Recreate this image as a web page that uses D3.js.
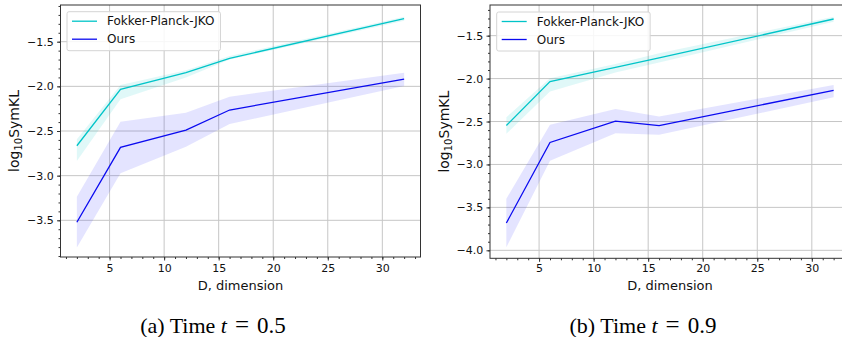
<!DOCTYPE html>
<html>
<head>
<meta charset="utf-8">
<script src="https://cdn.jsdelivr.net/npm/d3@7"></script>
<style>
  body { margin: 0; background: #fff; }
  svg { display: block; font-family: "DejaVu Sans", sans-serif; }
</style>
</head>
<body>
<div id="chart"></div>
<script>
// dimensions on the x axis
var dims = [2, 6, 12, 16, 32];

// (a) t = 0.5
var fpMeanA  = [-2.665, -2.034, -1.847, -1.686, -1.242];
var fpLowA   = [-2.836, -2.145, -1.900, -1.700, -1.265];
var fpHighA  = [-2.593, -1.985, -1.820, -1.660, -1.220];
var ourMeanA = [-3.522, -2.683, -2.489, -2.265, -1.920];
var ourLowA  = [-3.806, -2.974, -2.675, -2.421, -1.996];
var ourHighA = [-3.236, -2.396, -2.295, -2.116, -1.847];

// (b) t = 0.9
var fpMeanB  = [-2.547, -2.035, -1.870, -1.760, -1.306];
var fpLowB   = [-2.643, -2.151, -1.930, -1.814, -1.337];
var fpHighB  = [-2.450, -1.996, -1.830, -1.705, -1.279];
var ourMeanB = [-3.682, -2.744, -2.496, -2.547, -2.136];
var ourLowB  = [-3.965, -2.957, -2.636, -2.655, -2.217];
var ourHighB = [-3.399, -2.539, -2.353, -2.442, -2.074];

var xTicks = [5, 10, 15, 20, 25, 30];
var yTicksA = [-3.5, -3.0, -2.5, -2.0, -1.5];
var yTicksB = [-4.0, -3.5, -3.0, -2.5, -2.0, -1.5];
var seriesNames = ["Fokker-Planck-JKO", "Ours"];
var captions = ["(a)", "(b)"];
var times = ["0.5", "0.9"];

var fpColor = "#00c4c8", ourColor = "#0a0af0";

var svg = d3.select("#chart")
  .append("svg")
  .attr("width", 842)
  .attr("height", 337);

function panel(p) {
  var x = d3.scaleLinear().domain([0.5, 33.5]).range([p.left, p.right]);
  var y = d3.scaleLinear().domain(p.ydom).range([p.bottom, p.top]);
  var g = svg.append("g");

  // grid
  g.selectAll(".gx").data(xTicks).enter().append("line")
    .attr("x1", d => x(d)).attr("x2", d => x(d))
    .attr("y1", p.top).attr("y2", p.bottom)
    .attr("stroke", "#c6c6c6").attr("stroke-width", 1);
  g.selectAll(".gy").data(p.yticks).enter().append("line")
    .attr("x1", p.left).attr("x2", p.right)
    .attr("y1", d => y(d)).attr("y2", d => y(d))
    .attr("stroke", "#c6c6c6").attr("stroke-width", 1);

  var rows = dims.map(function(d, i) {
    return {x: d, fm: p.fm[i], fl: p.fl[i], fh: p.fh[i], om: p.om[i], ol: p.ol[i], oh: p.oh[i]};
  });

  // bands
  g.append("path").datum(rows)
    .attr("fill", fpColor).attr("fill-opacity", 0.12)
    .attr("d", d3.area().x(d => x(d.x)).y0(d => y(d.fl)).y1(d => y(d.fh)));
  g.append("path").datum(rows)
    .attr("fill", "#3030ff").attr("fill-opacity", 0.13)
    .attr("d", d3.area().x(d => x(d.x)).y0(d => y(d.ol)).y1(d => y(d.oh)));

  // lines
  g.append("path").datum(rows)
    .attr("fill", "none").attr("stroke", fpColor).attr("stroke-width", 1.3)
    .attr("d", d3.line().x(d => x(d.x)).y(d => y(d.fm)));
  g.append("path").datum(rows)
    .attr("fill", "none").attr("stroke", ourColor).attr("stroke-width", 1.3)
    .attr("d", d3.line().x(d => x(d.x)).y(d => y(d.om)));

  // axes
  g.append("g").attr("transform", "translate(0," + p.bottom + ")")
    .call(d3.axisBottom(x).tickValues(xTicks).tickSize(3.5).tickPadding(p.xpad).tickFormat(d3.format("d")));
  g.append("g").attr("transform", "translate(0," + p.bottom + ")")
    .call(d3.axisBottom(x).tickValues(d3.range(1, 34)).tickSize(2).tickFormat(""))
    .select(".domain").remove();
  g.append("g").attr("transform", "translate(" + p.left + ",0)")
    .call(d3.axisLeft(y).tickValues(p.yticks).tickSize(3.5).tickPadding(3.2).tickFormat(d3.format(".1f")));
  g.append("g").attr("transform", "translate(" + p.left + ",0)")
    .call(d3.axisLeft(y).tickValues(p.minor).tickSize(2).tickFormat(""))
    .select(".domain").remove();
  g.selectAll(".tick text").attr("font-size", 11).attr("font-family", "DejaVu Sans").attr("fill", "#111");
  g.selectAll(".tick line").attr("stroke", "#333");
  g.selectAll(".domain").remove();

  // frame
  g.append("rect")
    .attr("x", p.left).attr("y", p.top)
    .attr("width", p.right - p.left).attr("height", p.bottom - p.top)
    .attr("fill", "none").attr("stroke", "#333").attr("stroke-width", 1);

  // legend
  var lg = g.append("g").attr("transform", "translate(" + p.legX + "," + p.legY + ")");
  var box = lg.append("rect").attr("rx", 2)
    .attr("fill", "#fff").attr("fill-opacity", 0.85).attr("stroke", "#d4d4d4");
  var maxW = 0;
  seriesNames.forEach(function(name, i) {
    var yy = 9.5 + i * 18;
    lg.append("line").attr("x1", 5).attr("x2", 30).attr("y1", yy).attr("y2", yy)
      .attr("stroke", i == 0 ? fpColor : ourColor).attr("stroke-width", 1.3);
    var t = lg.append("text").attr("x", 40).attr("y", yy + 4.3)
      .attr("font-size", 12).attr("fill", "#111").text(name);
    maxW = Math.max(maxW, t.node().getComputedTextLength());
  });
  box.attr("width", 40 + maxW + 6).attr("height", 39);

  // axis labels
  g.append("text")
    .attr("x", (p.left + p.right) / 2).attr("y", 290)
    .attr("text-anchor", "middle").attr("font-size", 13).attr("fill", "#111")
    .text("D, dimension");
  var yl = g.append("text")
    .attr("transform", "translate(" + p.ylabX + "," + ((p.top + p.bottom) / 2) + ") rotate(-90)")
    .attr("text-anchor", "middle").attr("font-size", 14).attr("fill", "#111");
  yl.append("tspan").text("log");
  yl.append("tspan").attr("font-size", 10).attr("dy", 3).text("10");
  yl.append("tspan").attr("dy", -3).text("SymKL");

  // caption
  var cap = svg.append("text")
    .attr("x", p.capX).attr("y", 333)
    .attr("text-anchor", "middle")
    .attr("font-family", "Liberation Serif, Times New Roman, serif")
    .attr("font-size", 22).attr("fill", "#000");
  cap.append("tspan").text(p.cap + " Time ");
  cap.append("tspan").attr("font-style", "italic").text("t");
  cap.append("tspan").attr("dx", 8).attr("font-size", 25).text("=");
  cap.append("tspan").attr("dx", 8).attr("font-size", 23).text(p.time);
}

panel({
  left: 60.5, right: 420.5, top: 5, bottom: 257, xpad: 3.5,
  ydom: [-3.911, -1.089], yticks: yTicksA, minor: d3.range(-39, -10).map(d => d / 10),
  fm: fpMeanA, fl: fpLowA, fh: fpHighA, om: ourMeanA, ol: ourLowA, oh: ourHighA,
  legX: 67, legY: 11.7, ylabX: 19, capX: 213, cap: captions[0], time: times[0]
});

panel({
  left: 490, right: 850, top: 5, bottom: 258.3, xpad: 2.2,
  ydom: [-4.093, -1.143], yticks: yTicksB, minor: d3.range(-40, -11).map(d => d / 10),
  fm: fpMeanB, fl: fpLowB, fh: fpHighB, om: ourMeanB, ol: ourLowB, oh: ourHighB,
  legX: 496.7, legY: 12, ylabX: 449, capX: 643, cap: captions[1], time: times[1]
});
</script>
</body>
</html>
